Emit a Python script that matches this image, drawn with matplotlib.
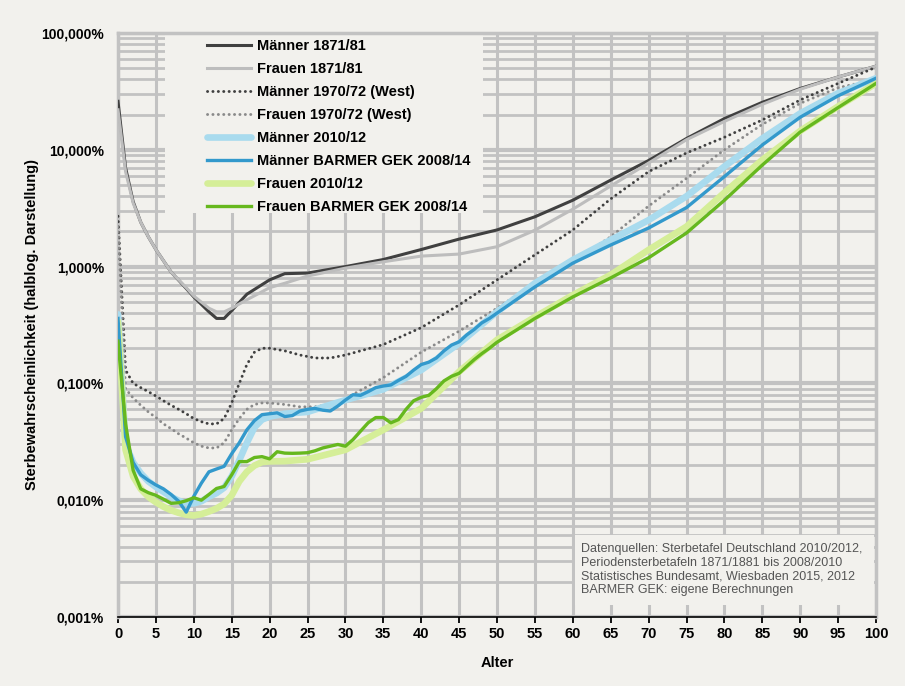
import numpy as np
import matplotlib
matplotlib.use('Agg')
import matplotlib.pyplot as plt
from matplotlib.patches import Rectangle

plt.rcParams['font.family'] = ['Liberation Sans', 'DejaVu Sans']

# Sterbewahrscheinlichkeit in Prozent
alter_1871 = [0, 1, 2, 3, 4, 5, 7, 9, 10, 12, 13, 14, 15, 17, 20, 22, 25, 30, 35, 40,
              45, 50, 55, 60, 65, 70, 75, 80, 85, 90, 95, 100]
maenner_1871 = [26, 7.0, 3.6, 2.4, 1.8, 1.4, 0.9, 0.65, 0.55, 0.41, 0.36, 0.36, 0.42, 0.58,
                0.77, 0.87, 0.88, 1.0, 1.15, 1.4, 1.72, 2.06, 2.67, 3.7, 5.5, 8.1, 12.5,
                18.5, 25.5, 33.5, 42, 52]
frauen_1871 = [22, 6.5, 3.5, 2.4, 1.8, 1.4, 0.9, 0.66, 0.56, 0.44, 0.41, 0.41, 0.44, 0.52,
               0.66, 0.72, 0.83, 0.97, 1.1, 1.23, 1.28, 1.48, 2.05, 3.1, 4.9, 7.7, 12.2,
               17.5, 24.5, 33, 42, 52]

alter_1970 = [0, 1, 2, 3, 4, 5, 6, 7, 8, 9, 10, 11, 12, 13, 14, 15, 16, 17, 18, 19, 20,
              22, 24, 26, 28, 30, 35, 40, 45, 50, 55, 60, 65, 70, 75, 80, 85, 90, 95, 100]
maenner_1970 = [2.7, 0.13, 0.10, 0.092, 0.085, 0.078, 0.071, 0.065, 0.06, 0.055, 0.05,
                0.047, 0.045, 0.045, 0.05, 0.068, 0.1, 0.145, 0.185, 0.2, 0.2, 0.19,
                0.175, 0.165, 0.165, 0.175, 0.215, 0.3, 0.47, 0.77, 1.26, 2.06, 3.8,
                6.5, 9.4, 12.8, 18, 26.7, 37, 51]
frauen_1970 = [2.2, 0.09, 0.075, 0.065, 0.057, 0.051, 0.045, 0.041, 0.037, 0.034, 0.031,
               0.029, 0.028, 0.028, 0.031, 0.04, 0.05, 0.06, 0.066, 0.068, 0.068, 0.066,
               0.063, 0.063, 0.066, 0.074, 0.112, 0.185, 0.28, 0.44, 0.72, 1.1, 1.8,
               3.3, 5.7, 10, 16.5, 25, 34, 40]

alter_2010 = [0, 1, 2, 3, 4, 5, 6, 7, 8, 9, 10, 11, 12, 13, 14, 15, 16, 17, 18, 19, 20,
              22, 25, 30, 35, 40, 45, 50, 55, 60, 65, 70, 75, 80, 85, 90, 95, 100]
maenner_2010 = [0.39, 0.03, 0.021, 0.017, 0.0145, 0.013, 0.0118, 0.0107, 0.0099, 0.0094,
                0.0094, 0.0098, 0.0107, 0.0115, 0.0128, 0.016, 0.022, 0.031, 0.042, 0.049,
                0.052, 0.055, 0.057, 0.072, 0.089, 0.13, 0.22, 0.41, 0.72, 1.14, 1.69,
                2.5, 4.0, 7.2, 12.5, 20.5, 30.5, 41]
frauen_2010 = [0.34, 0.027, 0.016, 0.0125, 0.0107, 0.0096, 0.0088, 0.0082, 0.0078, 0.0075,
               0.0074, 0.0076, 0.008, 0.0085, 0.0093, 0.011, 0.0145, 0.0175, 0.0198,
               0.0212, 0.0215, 0.0216, 0.0224, 0.027, 0.04, 0.061, 0.126, 0.236, 0.37,
               0.57, 0.85, 1.39, 2.2, 4.3, 8.2, 14.5, 23.5, 37]

alter_barmer = list(range(0, 51)) + [55, 60, 65, 70, 75, 80, 85, 90, 95, 100]
maenner_barmer = [0.36, 0.035, 0.021, 0.0165, 0.0148, 0.0135, 0.0125, 0.0112, 0.0098,
                  0.0079, 0.0108, 0.014, 0.0175, 0.0185, 0.0195, 0.025, 0.031, 0.04,
                  0.048, 0.054, 0.055, 0.056, 0.052, 0.053, 0.058, 0.06, 0.061, 0.059,
                  0.058, 0.064, 0.072, 0.08, 0.079, 0.085, 0.092, 0.095, 0.097, 0.106,
                  0.115, 0.13, 0.145, 0.152, 0.165, 0.19, 0.213, 0.227, 0.26, 0.29,
                  0.33, 0.36, 0.40, 0.67, 1.07, 1.53, 2.14, 3.2, 5.9, 11, 19, 29, 41]
frauen_barmer = [0.23, 0.045, 0.018, 0.0125, 0.0116, 0.011, 0.0102, 0.0094, 0.0095,
                 0.0099, 0.0105, 0.01, 0.0112, 0.0126, 0.0131, 0.0165, 0.0214, 0.0214,
                 0.0232, 0.0236, 0.0226, 0.026, 0.0253, 0.0252, 0.0253, 0.0255, 0.0265,
                 0.028, 0.029, 0.03, 0.029, 0.033, 0.039, 0.046, 0.051, 0.051, 0.046,
                 0.049, 0.06, 0.071, 0.076, 0.079, 0.09, 0.105, 0.115, 0.122, 0.14,
                 0.16, 0.18, 0.2, 0.225, 0.36, 0.55, 0.8, 1.19, 1.94, 3.7, 7.4, 14.2,
                 23, 37]

y_ticks = [0.001, 0.01, 0.1, 1, 10, 100]
y_labels = ['0,001%', '0,010%', '0,100%', '1,000%', '10,000%', '100,000%']

bg = '#f2f1ed'
grid = '#c2c2c2'

fig = plt.figure(figsize=(9.05, 6.86), dpi=100, facecolor=bg)
ax = fig.add_axes([118 / 905, 1 - 617 / 686, 758 / 905, 584 / 686], facecolor=bg)

ax.set_yscale('log')
ax.set_xlim(0, 100)
ax.set_ylim(0.001, 100)
ax.set_xticks(range(0, 101, 5))
ax.set_yticks(y_ticks)
ax.set_yticklabels(y_labels)
ax.yaxis.set_minor_locator(matplotlib.ticker.LogLocator(base=10, subs=np.arange(2, 10)))
ax.yaxis.set_minor_formatter(matplotlib.ticker.NullFormatter())

ax.set_axisbelow(True)
ax.grid(True, which='major', axis='x', color=grid, lw=2.2)
ax.grid(True, which='major', axis='y', color=grid, lw=3.0)
ax.grid(True, which='minor', axis='y', color=grid, lw=2.0)

for s in ['top', 'right', 'left']:
    ax.spines[s].set_color(grid)
    ax.spines[s].set_linewidth(2.5)
ax.spines['bottom'].set_color('black')
ax.spines['bottom'].set_linewidth(1.2)
ax.spines['bottom'].set_zorder(5)

ax.tick_params(axis='x', which='major', direction='out', length=4, width=1.3,
               color='black', pad=3, labelsize=10.5)
ax.tick_params(axis='y', which='both', length=0, pad=10, labelsize=10)
for lab in ax.get_xticklabels() + ax.get_yticklabels():
    lab.set_fontweight('bold')

ax.set_xlabel('Alter', fontsize=10.5, fontweight='bold', labelpad=11)
ax.set_ylabel('Sterbewahrscheinlichkeit (halblog. Darstellung)', fontsize=10.5,
              fontweight='bold', labelpad=2)

# Kästen für Legende und Quellenangabe (verdecken das Gitter)
ax.add_patch(Rectangle((47 / 758, 1 - 180 / 584), 318 / 758, 180 / 584,
                       transform=ax.transAxes, facecolor=bg, edgecolor='none', zorder=1))
ax.add_patch(Rectangle((457 / 758, 12 / 584), 299 / 758, 70 / 584,
                       transform=ax.transAxes, facecolor=bg, edgecolor='none', zorder=1))

dots = (0, (0.05, 1.8))
ax.plot(alter_1871, maenner_1871, color='#404040', lw=2.2, label='Männer 1871/81', zorder=3)
ax.plot(alter_1871, frauen_1871, color='#bdbdbd', lw=2.2, label='Frauen 1871/81', zorder=3)
ax.plot(alter_1970, maenner_1970, color='#404040', lw=2.1, ls=dots, dash_capstyle='round',
        label='Männer 1970/72 (West)', zorder=3)
ax.plot(alter_1970, frauen_1970, color='#8a8a8a', lw=2.1, ls=dots, dash_capstyle='round',
        label='Frauen 1970/72 (West)', zorder=3)
ax.plot(alter_2010, maenner_2010, color='#a9dbee', lw=4.8, solid_capstyle='round',
        label='Männer 2010/12', zorder=3)
ax.plot(alter_barmer, maenner_barmer, color='#3399cc', lw=2.4,
        label='Männer BARMER GEK 2008/14', zorder=4)
ax.plot(alter_2010, frauen_2010, color='#d5ee98', lw=4.8, solid_capstyle='round',
        label='Frauen 2010/12', zorder=3)
ax.plot(alter_barmer, frauen_barmer, color='#66b81e', lw=2.4,
        label='Frauen BARMER GEK 2008/14', zorder=4)

leg = ax.legend(loc='upper left', bbox_to_anchor=(89 / 758, 1 - 6 / 584), frameon=False,
                borderpad=0, borderaxespad=0, handlelength=3.0, handletextpad=0.45,
                labelspacing=0.62, prop={'weight': 'bold', 'size': 10.5})
leg.set_zorder(6)

ax.text(463 / 758, 74 / 584,
        'Datenquellen: Sterbetafel Deutschland 2010/2012,\n'
        'Periodensterbetafeln 1871/1881 bis 2008/2010\n'
        'Statistisches Bundesamt, Wiesbaden 2015, 2012\n'
        'BARMER GEK: eigene Berechnungen',
        transform=ax.transAxes, ha='left', va='top', fontsize=9, color='#555555',
        linespacing=1.18, zorder=6)

fig.savefig('out.png', dpi=100, facecolor=bg)
